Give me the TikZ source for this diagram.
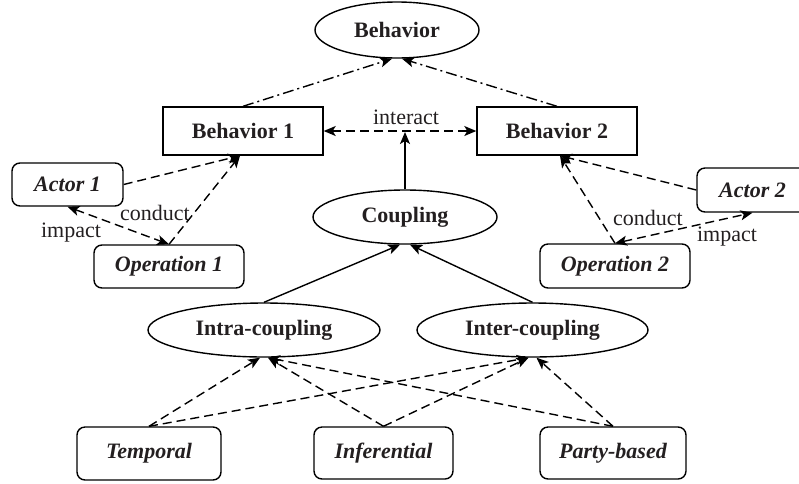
\documentclass[tikz,border=0pt]{standalone}
\usepackage{fontspec}
\setmainfont{Liberation Serif}
\usetikzlibrary{shapes.geometric,arrows.meta}
\definecolor{ink}{HTML}{231F20}
\begin{document}
\begin{tikzpicture}[x=1pt,y=-1pt,
  base/.style={draw=black,line width=1.4pt,inner sep=0pt,text=ink,
    font=\fontsize{22}{26}\selectfont\bfseries},
  oval/.style={base,ellipse},
  sqbox/.style={base,rectangle},
  rbox/.style={base,rectangle,rounded corners=8pt,
    font=\fontsize{22}{26}\selectfont\bfseries\itshape},
  lbl/.style={text=ink,font=\fontsize{22}{26}\selectfont,inner sep=0pt},
  tip/.style={-{Stealth[length=12pt,width=10pt,inset=3pt]}},
  dtip/.style={{Stealth[length=12pt,width=10pt,inset=3pt]}-{Stealth[length=12pt,width=10pt,inset=3pt]}},
  dsh/.style={line width=1.4pt,dash pattern=on 9pt off 5pt},
  dshdot/.style={line width=1.4pt,dash pattern=on 11pt off 4pt on 2pt off 4pt},
  plain/.style={line width=1.4pt}
]
\useasboundingbox (0,0) rectangle (799,483);

% top level
\node[oval,minimum width=164pt,minimum height=56pt] (beh) at (397,30) {Behavior};
\node[sqbox,minimum width=160pt,minimum height=48pt] (b1) at (243,131) {Behavior 1};
\node[sqbox,minimum width=160pt,minimum height=48pt] (b2) at (557,131) {Behavior 2};
\node[oval,minimum width=184pt,minimum height=54pt] (cpl) at (405,217) {Coupling};

% actors and operations
\node[rbox,minimum width=111pt,minimum height=43pt] (a1) at (67.5,184.5) {Actor 1};
\node[rbox,minimum width=150pt,minimum height=43pt] (o1) at (169,266.5) {Operation 1};
\node[rbox,minimum width=111pt,minimum height=44pt] (a2) at (752.5,190) {Actor 2};
\node[rbox,minimum width=150pt,minimum height=44pt] (o2) at (615,266) {Operation 2};

% coupling kinds
\node[oval,minimum width=232pt,minimum height=54pt] (intra) at (264,330) {Intra-coupling};
\node[oval,minimum width=231pt,minimum height=54pt] (inter) at (532.5,330) {Inter-coupling};

% coupling types
\node[rbox,minimum width=144pt,minimum height=53pt] (tmp) at (149,453.5) {Temporal};
\node[rbox,minimum width=139pt,minimum height=52pt] (inf) at (383.5,453) {Inferential};
\node[rbox,minimum width=146pt,minimum height=52pt] (pty) at (613,453) {Party-based};

% behaviour aggregation
\draw[dshdot,tip] (b1.north) -- ([xshift=-5pt]beh.south);
\draw[dshdot,tip] (b2.north) -- ([xshift=5pt]beh.south);
\draw[dsh,dtip] (b1.east) -- (b2.west);
\node[lbl] (lint) at (406,117) {interact};
\coordinate (mid) at (405,132);
\draw[plain,tip] (cpl.north) -- (mid);

% left actor/operation
\draw[dsh,tip] (a1.east) -- ([xshift=-3pt]b1.south);
\draw[dsh,tip] (o1.north) -- ([xshift=-3pt]b1.south);
\draw[dsh,dtip] (a1.south) -- (o1.north);
\node[lbl] (lc1) at (155,213) {conduct};
\node[lbl] (li1) at (71,233) {impact};

% right actor/operation
\draw[dsh,tip] (a2.west) -- ([xshift=3pt]b2.south);
\draw[dsh,tip] (o2.north) -- ([xshift=3pt]b2.south);
\draw[dsh,dtip] (o2.north) -- (a2.south);
\node[lbl] (lc2) at (648,218) {conduct};
\node[lbl] (li2) at (727,237) {impact};

% coupling hierarchy
\draw[plain,tip] (intra.north) -- ([xshift=-5pt]cpl.south);
\draw[plain,tip] (inter.north) -- ([xshift=5pt]cpl.south);

\draw[dsh,tip] (tmp.north) -- ([xshift=-4pt]intra.south);
\draw[dsh,tip] (tmp.north) -- ([xshift=-4pt]inter.south);
\draw[dsh,tip] (inf.north) -- ([xshift=4pt]intra.south);
\draw[dsh,tip] (inf.north) -- ([xshift=-4pt]inter.south);
\draw[dsh,tip] (pty.north) -- ([xshift=4pt]intra.south);
\draw[dsh,tip] (pty.north) -- ([xshift=4pt]inter.south);
\end{tikzpicture}
\end{document}
